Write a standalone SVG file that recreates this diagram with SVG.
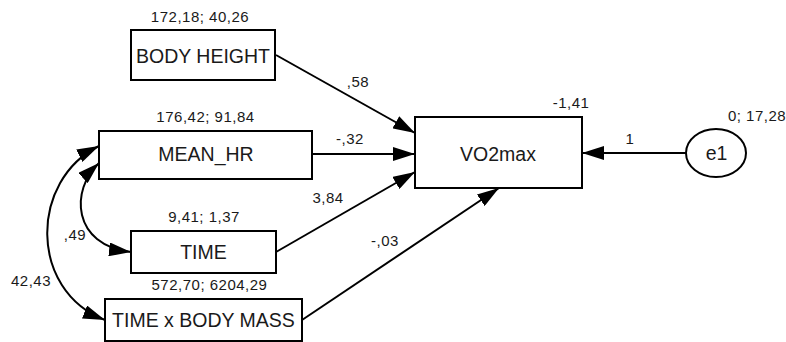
<svg xmlns="http://www.w3.org/2000/svg" width="786" height="342" viewBox="0 0 786 342">
  <defs>
    <marker id="arr" markerUnits="userSpaceOnUse" markerWidth="22" markerHeight="14" refX="22" refY="7" orient="auto-start-reverse" viewBox="0 0 22 14">
      <path d="M0,0 L22,7 L0,14 z" fill="#000"/>
    </marker>
    <style>
      .box { fill: #fff; stroke: #000; stroke-width: 2; }
      .node { font-family: "Liberation Sans", Arial, sans-serif; font-size: 19.5px; fill: #1a1a1a; text-anchor: middle; }
      .lbl { font-family: "Liberation Sans", Arial, sans-serif; font-size: 15px; letter-spacing: 0.5px; fill: #1a1a1a; text-anchor: middle; }
      .conn { fill: none; stroke: #000; stroke-width: 2; }
    </style>
  </defs>
  <rect width="786" height="342" fill="#fff"/>

  <g id="connectors">
    <path class="conn" d="M276,55 L415,133" marker-end="url(#arr)"/>
    <path class="conn" d="M312,154 L415,154" marker-end="url(#arr)"/>
    <path class="conn" d="M276,252 L415,172" marker-end="url(#arr)"/>
    <path class="conn" d="M302,320 L499,188" marker-end="url(#arr)"/>
    <path class="conn" d="M686,153 L582,153" marker-end="url(#arr)"/>
    <path class="conn" d="M99,146 C30,180 28,290 105,320" marker-start="url(#arr)" marker-end="url(#arr)"/>
    <path class="conn" d="M99,163 C70,190 72,245 131,252" marker-start="url(#arr)" marker-end="url(#arr)"/>
    <text class="lbl" x="358" y="87">,58</text>
    <text class="lbl" x="350" y="144">-,32</text>
    <text class="lbl" x="328" y="203">3,84</text>
    <text class="lbl" x="385" y="246">-,03</text>
    <text class="lbl" x="630" y="144">1</text>
    <text class="lbl" x="75" y="240">,49</text>
    <text class="lbl" x="31" y="286">42,43</text>
  </g>

  <g id="body_height">
    <rect class="box" x="131" y="30" width="144" height="50"/>
    <text class="node" x="203" y="62.5">BODY HEIGHT</text>
    <text class="lbl" x="200" y="22">172,18; 40,26</text>
  </g>

  <g id="mean_hr">
    <rect class="box" x="99" y="131" width="213" height="48"/>
    <text class="node" x="206" y="161">MEAN_HR</text>
    <text class="lbl" x="205.5" y="122">176,42; 91,84</text>
  </g>

  <g id="time">
    <rect class="box" x="131" y="231" width="145" height="42"/>
    <text class="node" x="203.5" y="259">TIME</text>
    <text class="lbl" x="204" y="222">9,41; 1,37</text>
  </g>

  <g id="time_x_body_mass">
    <rect class="box" x="105" y="299" width="197" height="42"/>
    <text class="node" x="203.5" y="326.5">TIME x BODY MASS</text>
    <text class="lbl" x="209.5" y="290">572,70; 6204,29</text>
  </g>

  <g id="vo2max">
    <rect class="box" x="415" y="117" width="167" height="71"/>
    <text class="node" x="498" y="160.5">VO2max</text>
    <text class="lbl" x="571" y="108">-1,41</text>
  </g>

  <g id="e1">
    <ellipse class="box" cx="716" cy="153" rx="30" ry="24"/>
    <text class="node" x="716.5" y="160">e1</text>
    <text class="lbl" x="757" y="121">0; 17,28</text>
  </g>
</svg>
